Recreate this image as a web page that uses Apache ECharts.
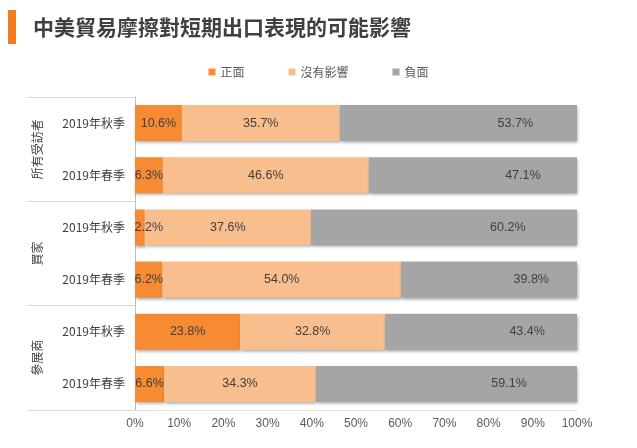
<!DOCTYPE html>
<html>
<head>
<meta charset="utf-8">
<script src="https://cdn.jsdelivr.net/npm/echarts@6/dist/echarts.min.js"></script>
<style>
html,body{margin:0;padding:0;background:#fff;}
#c{width:637px;height:448px;}
</style>
</head>
<body>
<div id="c"></div>
<script>
var groups = ['所有受訪者', '買家', '參展商'];
var seasons = ['2019年秋季', '2019年春季'];
var categories = [
  '所有受訪者|2019年秋季', '所有受訪者|2019年春季',
  '買家|2019年秋季', '買家|2019年春季',
  '參展商|2019年秋季', '參展商|2019年春季'
];
var positive = [10.6, 6.3, 2.2, 6.2, 23.8, 6.6];
var noImpact = [35.7, 46.6, 37.6, 54.0, 32.8, 34.3];
var negative = [53.7, 47.1, 60.2, 39.8, 43.4, 59.1];
var xTicks = [0, 10, 20, 30, 40, 50, 60, 70, 80, 90, 100];
var seriesNames = ['正面', '沒有影響', '負面'];
var colors = ['#F68B33', '#F9BE8E', '#A5A5A5'];

var FONT = '"Noto Sans CJK TC", "Noto Sans", sans-serif';
var chart = echarts.init(document.getElementById('c'), null, {renderer: 'canvas'});

function mkSeries(name, data, color, labelPos) {
  return {
    name: name,
    type: 'bar',
    stack: 'total',
    data: data.map(function (v) {
      return v < 4 ? {value: v, label: {offset: [9, 0]}} : v;
    }),
    barWidth: 36,
    itemStyle: {
      color: color,
      shadowColor: 'rgba(0,0,0,0.35)',
      shadowBlur: 3,
      shadowOffsetX: 1,
      shadowOffsetY: 2
    },
    label: {
      show: true,
      position: labelPos,
      align: 'center',
      verticalAlign: 'middle',
      color: '#404040',
      fontSize: 12.5,
      fontFamily: 'Arial, "Liberation Sans", sans-serif',
      formatter: function (p) { return p.value.toFixed(1) + '%'; }
    },
    emphasis: {disabled: true}
  };
}

chart.setOption({
  animation: false,
  textStyle: {fontFamily: FONT},
  title: {
    text: '中美貿易摩擦對短期出口表現的可能影響',
    left: 28,
    top: 12,
    textStyle: {fontSize: 21, fontWeight: 'bold', color: '#404040', fontFamily: FONT}
  },
  graphic: [{
    type: 'rect',
    shape: {x: 8, y: 10, width: 8, height: 34},
    style: {fill: '#F47B20'}
  }],
  legend: {
    data: seriesNames,
    left: 'center',
    top: 61,
    itemWidth: 7,
    itemHeight: 7,
    itemGap: 44,
    itemStyle: {shadowBlur: 0, shadowOffsetX: 0, shadowOffsetY: 0},
    icon: 'rect',
    textStyle: {fontSize: 12, color: '#595959', fontFamily: FONT}
  },
  grid: {left: 135, right: 60, top: 97, bottom: 38, containLabel: false},
  xAxis: {
    type: 'value',
    min: 0,
    max: 100,
    interval: 10,
    splitLine: {show: false},
    axisLine: {show: true, lineStyle: {color: '#E3E3E3'}},
    axisTick: {show: false},
    axisLabel: {
      color: '#595959',
      fontSize: 12,
      fontFamily: 'Arial, "Liberation Sans", sans-serif',
      margin: 8,
      formatter: function (v) { return xTicks.indexOf(v) >= 0 ? v + '%' : ''; }
    }
  },
  yAxis: [{
    type: 'category',
    data: categories,
    inverse: true,
    position: 'left',
    axisLine: {show: true, lineStyle: {color: '#BFBFBF'}},
    axisTick: {show: false},
    axisLabel: {
      color: '#404040',
      fontSize: 12,
      margin: 10,
      fontFamily: FONT,
      formatter: function (v) { return v.split('|')[1]; }
    }
  }, {
    type: 'category',
    data: groups,
    inverse: true,
    position: 'left',
    offset: 0,
    axisLine: {show: false},
    axisTick: {show: true, length: 108, lineStyle: {color: '#D9D9D9'}},
    axisLabel: {
      color: '#404040',
      fontSize: 12,
      rotate: 90,
      margin: 92,
      fontFamily: FONT
    }
  }],
  series: [
    mkSeries(seriesNames[0], positive, colors[0], ['50%', '50%']),
    mkSeries(seriesNames[1], noImpact, colors[1], ['50%', '50%']),
    mkSeries(seriesNames[2], negative, colors[2], ['74%', '50%'])
  ]
});
</script>
</body>
</html>
